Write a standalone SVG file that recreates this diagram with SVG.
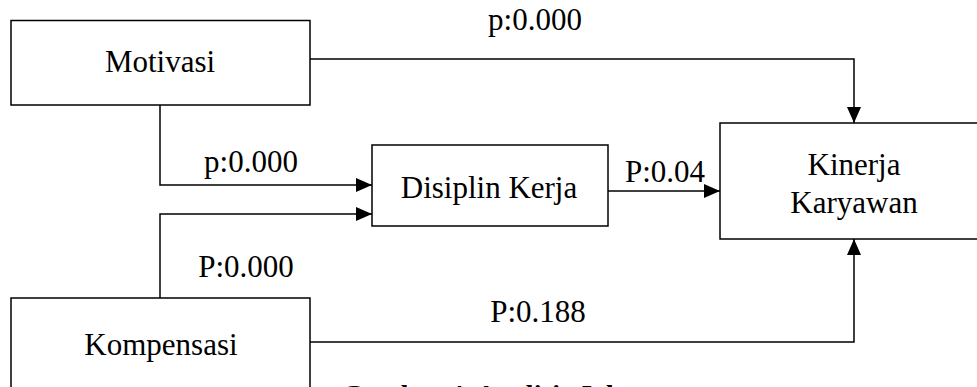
<svg xmlns="http://www.w3.org/2000/svg" width="977" height="387" viewBox="0 0 977 387">
<style>
.box{fill:#fff;stroke:#000;stroke-width:1.5}
.lbl{font-family:"Liberation Serif","Times New Roman",serif;font-size:31px;fill:#000;text-anchor:middle}
.con{fill:none;stroke:#000;stroke-width:1.5}
.cap{font-family:"Liberation Serif","Times New Roman",serif;font-size:28px;font-weight:bold;fill:#000}
</style>
<defs>
<marker id="ah" markerUnits="userSpaceOnUse" markerWidth="16" markerHeight="14" refX="16" refY="7" orient="auto">
<path d="M0,0 L16,7 L0,14 Z" fill="#000"/>
</marker>
</defs>
<rect width="977" height="387" fill="#fff"/>
<g id="connectors">
<path class="con" d="M310,59 H854 V123" marker-end="url(#ah)"/>
<path class="con" d="M160,105 V185 H372" marker-end="url(#ah)"/>
<path class="con" d="M160,298 V214 H372" marker-end="url(#ah)"/>
<path class="con" d="M608,191 H720" marker-end="url(#ah)"/>
<path class="con" d="M310,342 H854 V239" marker-end="url(#ah)"/>
<text class="lbl" x="535" y="30">p:0.000</text>
<text class="lbl" x="251" y="172">p:0.000</text>
<text class="lbl" x="665" y="182">P:0.04</text>
<text class="lbl" x="246" y="277">P:0.000</text>
<text class="lbl" x="538" y="322">P:0.188</text>
</g>
<g id="motivasi">
<rect class="box" x="11" y="20.5" width="299" height="84.5"/>
<text class="lbl" x="160" y="72">Motivasi</text>
</g>
<g id="disiplin">
<rect class="box" x="372" y="145" width="236" height="81"/>
<text class="lbl" x="489" y="198">Disiplin Kerja</text>
</g>
<g id="kinerja">
<rect class="box" x="720" y="123" width="262" height="116"/>
<text class="lbl" x="854" y="175">Kinerja</text>
<text class="lbl" x="854" y="213">Karyawan</text>
</g>
<g id="kompensasi">
<rect class="box" x="11" y="298" width="299" height="100"/>
<text class="lbl" x="161" y="355">Kompensasi</text>
</g>
<text class="cap" x="342" y="404">Gambar 4. Analisis Jalur</text>
</svg>
